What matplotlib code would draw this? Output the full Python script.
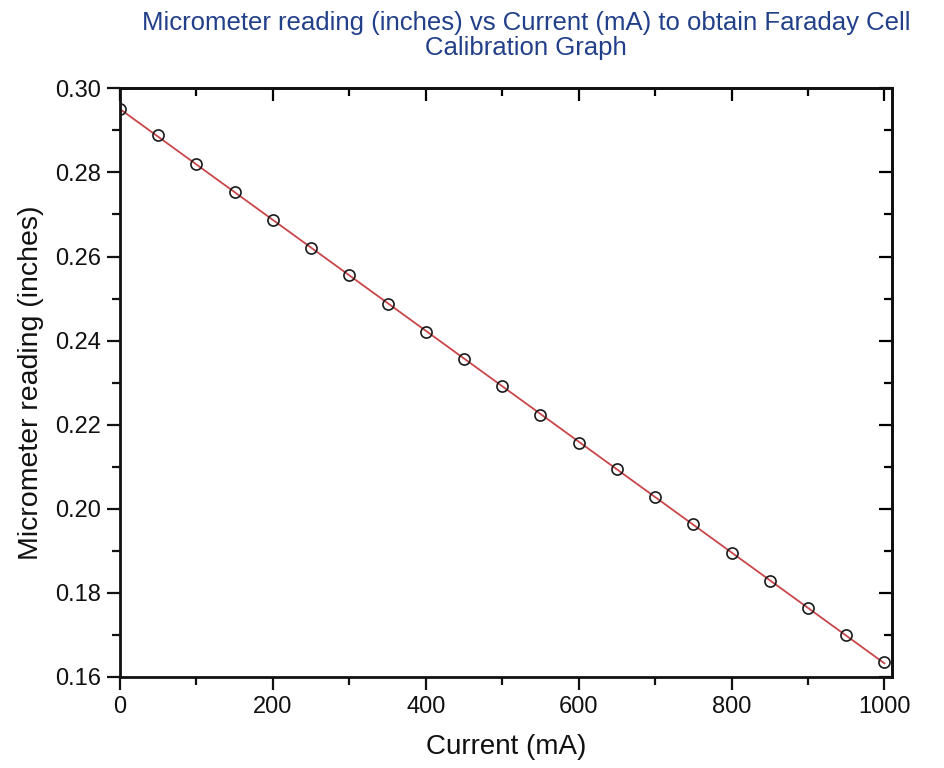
import numpy as np
import matplotlib
matplotlib.use("Agg")
import matplotlib.pyplot as plt
from matplotlib.ticker import MultipleLocator

plt.rcParams['font.family'] = ['Liberation Sans', 'DejaVu Sans']

current = [0, 50, 100, 150, 200, 250, 300, 350, 400, 450, 500,
           550, 600, 650, 700, 750, 800, 850, 900, 950, 1000]
reading = [0.2952, 0.2888, 0.2820, 0.2753, 0.2687, 0.2621, 0.2555, 0.2488,
           0.2421, 0.2356, 0.2291, 0.2224, 0.2157, 0.2094, 0.2027, 0.1963,
           0.1896, 0.1829, 0.1765, 0.1700, 0.1636]
x_ticks = [0, 200, 400, 600, 800, 1000]
y_ticks = [0.16, 0.18, 0.20, 0.22, 0.24, 0.26, 0.28, 0.30]

fig = plt.figure(figsize=(9.45, 7.68), dpi=100)
ax = fig.add_axes([0.127, 0.1185, 0.817, 0.7665])

coef = np.polyfit(current, reading, 1)
xf = np.array([current[0], current[-1]])
ax.plot(xf, np.polyval(coef, xf), color='#c8464a', lw=1.3, zorder=2)
ax.plot(current, reading, linestyle='none', marker='o', markersize=8,
        markerfacecolor='none', markeredgecolor='#1a1a1a', markeredgewidth=1.2, zorder=3)

ax.set_xlim(0, 1010)
ax.set_ylim(0.16, 0.30)
ax.set_xticks(x_ticks)
ax.set_yticks(y_ticks)
ax.set_yticklabels([f"{v:.2f}" for v in y_ticks])
ax.xaxis.set_minor_locator(MultipleLocator(100))
ax.yaxis.set_minor_locator(MultipleLocator(0.01))

ax.tick_params(which='both', direction='out', top=False, right=False, width=1.6,
               labelsize=17, colors='#111111')
ax.tick_params(which='major', length=9.5, pad=4)
ax.tick_params(which='minor', length=5.5)

# inward ticks on top and right via secondary axes
sx = ax.secondary_xaxis('top')
sx.set_xticks(x_ticks)
sx.xaxis.set_minor_locator(MultipleLocator(100))
sx.tick_params(which='both', direction='in', width=1.6, labeltop=False)
sx.tick_params(which='major', length=9.5)
sx.tick_params(which='minor', length=5.5)
sy = ax.secondary_yaxis('right')
sy.set_yticks(y_ticks)
sy.yaxis.set_minor_locator(MultipleLocator(0.01))
sy.tick_params(which='both', direction='in', width=1.6, labelright=False)
sy.tick_params(which='major', length=9.5)
sy.tick_params(which='minor', length=5.5)
for s in list(ax.spines.values()) + list(sx.spines.values()) + list(sy.spines.values()):
    s.set_linewidth(2.0)
    s.set_color('#111111')

ax.set_xlabel('Current (mA)', fontsize=20, labelpad=12, color='#111111')
ax.set_ylabel('Micrometer reading (inches)', fontsize=20.5, labelpad=8, color='#111111')
fig.suptitle('Micrometer reading (inches) vs Current (mA) to obtain Faraday Cell\nCalibration Graph',
             x=0.557, y=0.986, fontsize=18.5, color='#22408a', linespacing=1.08)

fig.savefig('out.png', dpi=100)
